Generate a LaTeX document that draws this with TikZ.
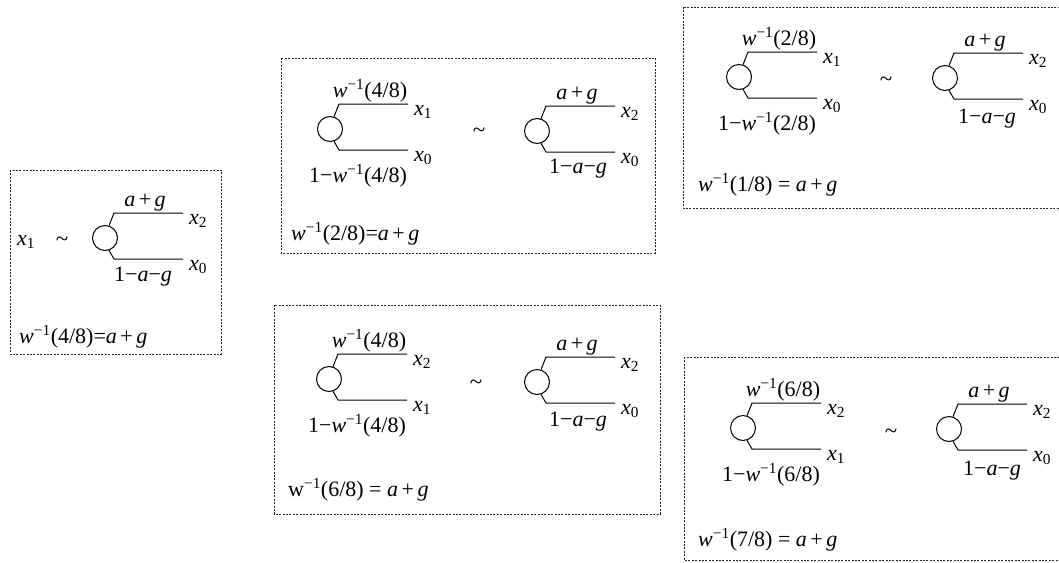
\documentclass[tikz,border=0pt]{standalone}
\usepackage{fontspec}
\setmainfont{Liberation Serif}
\usetikzlibrary{calc}
\newcommand{\xsub}[1]{\textit{x}\textsubscript{#1}}
\newcommand{\winv}[1]{\textit{w}\textsuperscript{−1}(#1)}
\newcommand{\apg}{\textit{a}\kern.16em+\kern.16em\textit{g}}
\newcommand{\omag}{1−\textit{a}−\textit{g}}
\newcommand{\omw}[1]{1−\winv{#1}}
\tikzset{
  cnode/.style={circle,draw,line width=1pt,minimum size=25pt,inner sep=0pt},
  branch/.style={line width=1pt},
  lbl/.style={anchor=base,inner sep=0pt},
  leaf/.style={anchor=base west,inner sep=0pt},
  sim/.style={anchor=base,inner sep=0pt,font=\fontsize{23}{26}\selectfont},
  dbox/.style={draw=black!85,line width=0.9pt,dash pattern=on 2pt off 1.4pt},
  every node/.style={font=\fontsize{22}{25}\selectfont}
}
% name, cx, cy, top label, bottom label, top leaf, bottom leaf, bottom label x offset, bottom label baseline offset
\newcommand{\btree}[9]{%
  \node[cnode] (#1) at (#2,#3+2) {};
  \coordinate (#1ts) at (#2+9,#3-23);
  \coordinate (#1te) at (#2+78,#3-23);
  \coordinate (#1bs) at (#2+9,#3+23);
  \coordinate (#1be) at (#2+78,#3+23);
  \draw[branch] (#1.72) -- (#1ts) -- (#1te);
  \draw[branch] (#1.-72) -- (#1bs) -- (#1be);
  \node[lbl] (#1tl) at (#2+40,#3-30) {#4};
  \node[lbl] (#1bl) at (#2+#8,#3+#9) {#5};
  \node[leaf] (#1tx) at (#2+84,#3-11.5) {#6};
  \node[leaf] (#1bx) at (#2+84,#3+34.5) {#7};
}
\begin{document}
\begin{tikzpicture}[x=1pt,y=-1pt]
\clip (0,0) rectangle (1059,562);
% boxes
\draw[dbox] (10,170) rectangle (221,354);
\draw[dbox] (281,58) rectangle (655,253);
\draw[dbox] (683,7) rectangle (1075,208);
\draw[dbox] (274,305) rectangle (660,514);
\draw[dbox] (684,357) rectangle (1075,560);
% box 1
\node[leaf] (b1x) at (17,245) {\xsub{1}};
\node[sim] (b1sim) at (62,246) {\textasciitilde};
\btree{ta}{105}{236}{\apg}{\omag}{\xsub{2}}{\xsub{0}}{38}{45}
\node[leaf] (b1eq) at (19,343) {\winv{4/8}=\apg};
% box 2
\btree{tb}{330}{127}{\winv{4/8}}{\omw{4/8}}{\xsub{1}}{\xsub{0}}{28}{55}
\node[sim] (b2sim) at (479,137) {\textasciitilde};
\btree{tc}{537}{129}{\apg}{\omag}{\xsub{2}}{\xsub{0}}{41}{44}
\node[leaf] (b2eq) at (291,240) {\winv{2/8}=\apg};
% box 3
\btree{td}{739}{75}{\winv{2/8}}{\omw{2/8}}{\xsub{1}}{\xsub{0}}{28}{55}
\node[sim] (b3sim) at (886,86) {\textasciitilde};
\btree{te}{945}{76}{\apg}{\omag}{\xsub{2}}{\xsub{0}}{42}{47}
\node[leaf] (b3eq) at (698,191) {\winv{1/8} = \apg};
% box 4
\btree{tf}{329}{377}{\winv{4/8}}{\omw{4/8}}{\xsub{2}}{\xsub{1}}{28}{55}
\node[sim] (b4sim) at (476,389) {\textasciitilde};
\btree{tg}{537}{380}{\apg}{\omag}{\xsub{2}}{\xsub{0}}{41}{46}
\node[leaf] (b4eq) at (288,496) {w\textsuperscript{−1}(6/8) = \apg};
% box 5
\btree{th}{743}{426}{\winv{6/8}}{\omw{6/8}}{\xsub{2}}{\xsub{1}}{28}{55}
\node[sim] (b5sim) at (891,438) {\textasciitilde};
\btree{ti}{949}{427}{\apg}{\omag}{\xsub{2}}{\xsub{0}}{43}{48}
\node[leaf] (b5eq) at (698,546) {\winv{7/8} = \apg};
\end{tikzpicture}
\end{document}
